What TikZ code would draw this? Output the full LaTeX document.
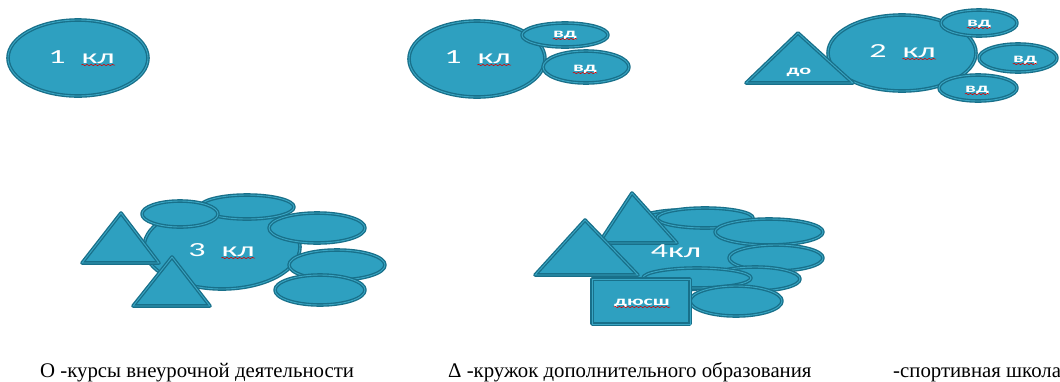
\documentclass[tikz,border=0pt]{standalone}
\usepackage{fontspec}
\setmainfont{Liberation Serif}
\newfontfamily\lblfont{Carlito}
\usepackage{graphicx}
\usetikzlibrary{shapes.geometric,decorations.pathmorphing}
\definecolor{fillc}{RGB}{46,160,192}
\definecolor{edgec}{RGB}{24,112,138}
\definecolor{gapc}{RGB}{58,166,196}
\tikzset{
  shapeline/.style={draw=edgec, line width=1.35pt, double=gapc, double distance=0.9pt, fill=fillc, line join=round},
  blob/.style={shapeline, ellipse, inner sep=0pt},
  boxshape/.style={shapeline, rectangle, inner sep=0pt},
  big/.style={text=white, font=\lblfont\fontsize{20}{20}\selectfont, inner sep=0pt, anchor=base},
  small/.style={text=white, font=\lblfont\bfseries\fontsize{13}{13}\selectfont, inner sep=0pt, anchor=base},
  legend/.style={font=\fontsize{20.8}{24}\selectfont, anchor=base west, inner sep=0pt},
  wavy/.style={draw=red!85!black, line width=0.5pt, decorate, decoration={snake, amplitude=0.6pt, segment length=2.5pt}}
}
\newcommand{\sqg}[1]{\tikz[baseline=(w.base)]{\node[inner sep=0pt,text=white](w){#1};\draw[wavy]([yshift=-2pt]w.base west)--([yshift=-2pt]w.base east);}}
\begin{document}
\begin{tikzpicture}[x=1pt,y=-1pt]
\useasboundingbox (0,0) rectangle (1060,381);
% panel 1
\node[blob, minimum width=140pt, minimum height=76pt] (c1) at (78,58) {};
\node[big] (c1t) at (82,63) {\scalebox{1.7}[1]{1\hspace{0.45em}\sqg{кл}}};
% panel 2
\node[blob, minimum width=136pt, minimum height=76pt] (c2) at (477,59) {};
\node[blob, minimum width=86pt, minimum height=24pt] (v21) at (565,35) {};
\node[blob, minimum width=86pt, minimum height=32pt] (v22) at (586,67) {};
\node[big] (c2t) at (478,63) {\scalebox{1.7}[1]{1\hspace{0.45em}\sqg{кл}}};
\node[small] (v21t) at (565,37) {\scalebox{1.7}[1]{\sqg{вд}}};
\node[small] (v22t) at (585,71) {\scalebox{1.7}[1]{\sqg{вд}}};
% panel 3
\node[blob, minimum width=148pt, minimum height=76pt] (c3) at (902,53) {};
\draw[shapeline] (798,33) coordinate (t3a) -- (746,83) coordinate (t3b) -- (853,83) coordinate (t3c) -- cycle;
\node[blob, minimum width=76pt, minimum height=26pt] (v31) at (979,23) {};
\node[blob, minimum width=78pt, minimum height=28pt] (v32) at (1018,58) {};
\node[blob, minimum width=78pt, minimum height=26pt] (v33) at (978,88) {};
\node[small] (dot) at (799,74) {\scalebox{1.7}[1]{до}};
\node[big] (c3t) at (903,57) {\scalebox{1.7}[1]{2\hspace{0.45em}\sqg{кл}}};
\node[small] (v31t) at (979,26) {\scalebox{1.7}[1]{\sqg{вд}}};
\node[small] (v32t) at (1025,62) {\scalebox{1.7}[1]{\sqg{вд}}};
\node[small] (v33t) at (977,92) {\scalebox{1.7}[1]{\sqg{вд}}};
% panel 4
\node[blob, minimum width=156pt, minimum height=84pt] (c4) at (222,247) {};
\node[blob, minimum width=94pt, minimum height=24pt] (e42) at (247,207) {};
\node[blob, minimum width=76pt, minimum height=26pt] (e41) at (180,214) {};
\node[blob, minimum width=96pt, minimum height=30pt] (e43) at (317,228) {};
\node[blob, minimum width=96pt, minimum height=30pt] (e44) at (337,265) {};
\node[blob, minimum width=90pt, minimum height=30pt] (e45) at (320,290) {};
\draw[shapeline] (121,213) -- (82,263) -- (159,263) -- cycle;
\draw[shapeline] (172,257) -- (133,306) -- (210,306) -- cycle;
\node[big] (c4t) at (222,256) {\scalebox{1.7}[1]{3\hspace{0.45em}\sqg{кл}}};
% panel 5
\node[blob, minimum width=150pt, minimum height=80pt] (c5) at (680,250) {};
\node[blob, minimum width=96pt, minimum height=20pt] (e51) at (705,218) {};
\node[blob, minimum width=108pt, minimum height=26pt] (e52) at (769,232) {};
\node[blob, minimum width=94pt, minimum height=26pt] (e53) at (776,258) {};
\node[blob, minimum width=90pt, minimum height=24pt] (e54) at (755,279) {};
\node[blob, minimum width=108pt, minimum height=20pt] (e55) at (697,278) {};
\node[blob, minimum width=92pt, minimum height=30pt] (e56) at (736,301) {};
\draw[shapeline] (632,193) -- (599,243) -- (677,243) -- cycle;
\draw[shapeline] (585,220) -- (535,275) -- (638,275) -- cycle;
\node[boxshape, minimum width=98pt, minimum height=45pt] (r5) at (641,301.5) {};
\node[big] (c5t) at (676,257) {\scalebox{1.7}[1]{4кл}};
\node[small] (r5t) at (642,305) {\scalebox{1.7}[1]{\sqg{дюсш}}};
% legend
\node[legend] (l1) at (40,377) {О -курсы внеурочной деятельности};
\node[legend] (l2) at (448,377) {Δ -кружок дополнительного образования};
\node[legend] (l3) at (893,377) {-спортивная школа};
\end{tikzpicture}
\end{document}
